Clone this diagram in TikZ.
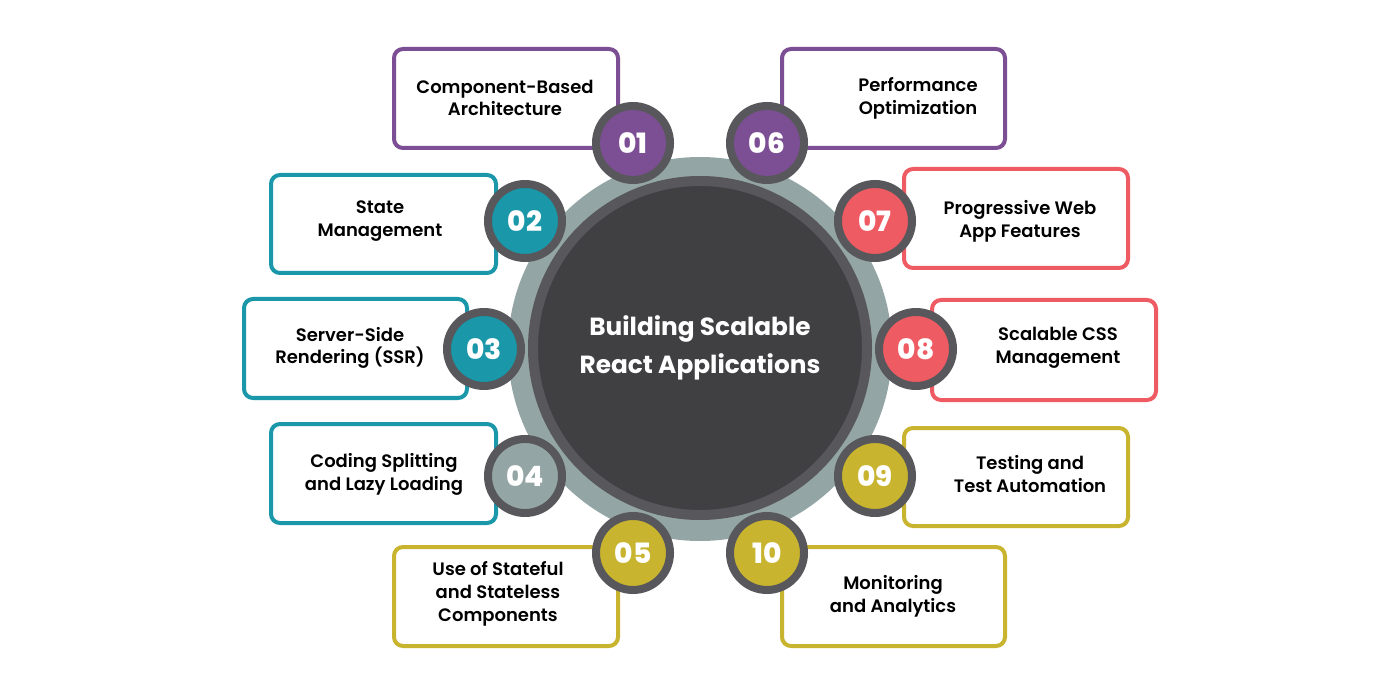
\documentclass[tikz,border=0pt]{standalone}
\usepackage{fontspec}
\setmainfont{Poppins}
\newfontfamily\popsemi{Poppins SemiBold}
\newfontfamily\popbold{Poppins Bold}
\newfontfamily\popxb{Poppins ExtraBold}
\definecolor{cpurple}{HTML}{7C4F95}
\definecolor{cteal}{HTML}{1A97A9}
\definecolor{ccoral}{HTML}{EF5B63}
\definecolor{colive}{HTML}{C8B42E}
\definecolor{cring}{HTML}{93A6A5}
\definecolor{cborder}{HTML}{58575B}
\definecolor{cdark}{HTML}{403F42}
\tikzset{
  featbox/.style={draw=#1, line width=4pt, rounded corners=9pt, fill=white, inner sep=0pt},
  badge/.style={circle, draw=cborder, line width=8pt, fill=#1, minimum size=74pt, inner sep=0pt,
    text=white, font=\popxb\fontsize{28}{30}\selectfont},
  label/.style={align=center, text=black, font=\popsemi\fontsize{18}{22.8}\selectfont},
}
\newcommand\featurebox[6]{\node[featbox=#2, minimum width={#5-#3-4}, minimum height={#6-#4-4}] (#1) at ({(#3+#5)/2},{(#4+#6)/2}) {};}
\begin{document}
\begin{tikzpicture}[x=1pt,y=-1pt]
\fill[white] (0,0) rectangle (1400,700);
\useasboundingbox (0,0) rectangle (1400,700);
% boxes
\featurebox{b01}{cpurple}{392}{47}{620}{150}
\featurebox{b06}{cpurple}{780}{47}{1007}{150}
\featurebox{b02}{cteal}{269}{173}{498}{275}
\featurebox{b07}{ccoral}{902}{167}{1130}{270}
\featurebox{b03}{cteal}{242}{297}{469}{400}
\featurebox{b08}{ccoral}{930}{298}{1158}{402}
\featurebox{b04}{cteal}{269}{422}{498}{525}
\featurebox{b09}{colive}{902}{426}{1130}{528}
\featurebox{b05}{colive}{392}{545}{620}{648}
\featurebox{b10}{colive}{780}{545}{1007}{648}
% labels
\node[label] (t01) at (505,98) {Component-Based\\Architecture};
\node[label] (t06) at (918,98) {Performance\\Optimization};
\node[label] (t02) at (380,221) {State\\Management};
\node[label] (t07) at (1020,221) {Progressive Web\\App Features};
\node[label] (t03) at (350,348) {Server-Side\\Rendering (SSR)};
\node[label] (t08) at (1058,348) {Scalable CSS\\Management};
\node[label] (t04) at (384,474) {Coding Splitting\\and Lazy Loading};
\node[label] (t09) at (1030,474) {Testing and\\Test Automation};
\node[label] (t05) at (498,594) {Use of Stateful\\and Stateless\\Components};
\node[label] (t10) at (893,596) {Monitoring\\and Analytics};
% center
\node[circle, fill=cring, minimum size=384pt, inner sep=0pt] (ring) at (700,349) {};
\node[circle, draw=cborder, line width=10pt, fill=cdark, minimum size=334pt, inner sep=0pt,
  align=center, text=white, font=\popbold\fontsize{24.8}{38}\selectfont] (hub) at (700,348)
  {Building Scalable\\React Applications};
% badges
\node[badge=cpurple] (n01) at (633,143) {01};
\node[badge=cpurple] (n06) at (767,143) {06};
\node[badge=cteal] (n02) at (525,221) {02};
\node[badge=ccoral] (n07) at (875,221) {07};
\node[badge=cteal] (n03) at (484,349) {03};
\node[badge=ccoral] (n08) at (916,349) {08};
\node[badge=cring] (n04) at (525,476) {04};
\node[badge=colive] (n09) at (875,476) {09};
\node[badge=colive] (n05) at (633,553) {05};
\node[badge=colive] (n10) at (767,553) {10};
\end{tikzpicture}
\end{document}
